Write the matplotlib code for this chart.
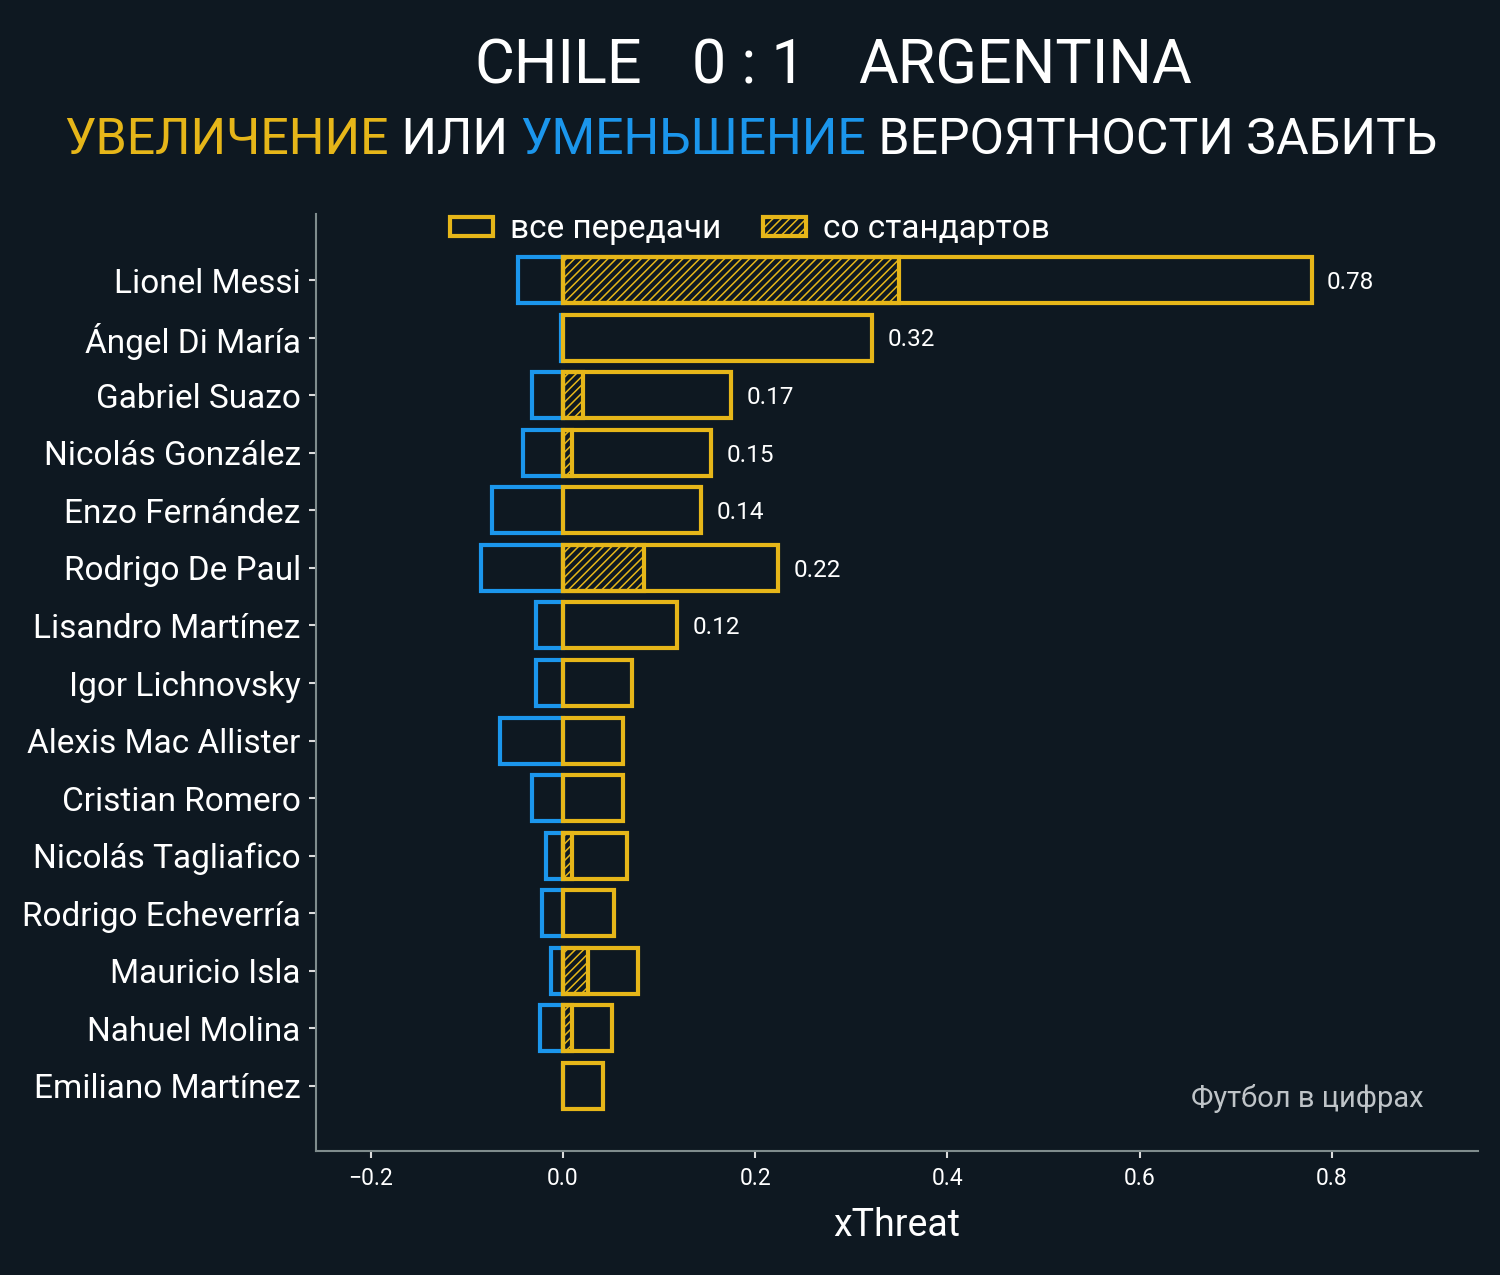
import matplotlib.pyplot as plt
from matplotlib.patches import Patch

plt.rcParams['font.family'] = ['Roboto', 'DejaVu Sans']
plt.rcParams['hatch.linewidth'] = 1.1

players = ['Lionel Messi', 'Ángel Di María', 'Gabriel Suazo', 'Nicolás González',
           'Enzo Fernández', 'Rodrigo De Paul', 'Lisandro Martínez', 'Igor Lichnovsky',
           'Alexis Mac Allister', 'Cristian Romero', 'Nicolás Tagliafico',
           'Rodrigo Echeverría', 'Mauricio Isla', 'Nahuel Molina', 'Emiliano Martínez']
xt_plus = [0.779, 0.3215, 0.175, 0.154, 0.144, 0.224, 0.119, 0.072, 0.062, 0.062,
           0.067, 0.053, 0.078, 0.051, 0.042]
xt_setpiece = [0.35, 0.0, 0.021, 0.009, 0.0, 0.084, 0.0, 0.0, 0.0, 0.0,
               0.009, 0.0, 0.026, 0.009, 0.0]
xt_minus = [-0.047, -0.002, -0.032, -0.042, -0.074, -0.085, -0.028, -0.028, -0.066, -0.032,
            -0.018, -0.022, -0.013, -0.024, 0.0]

bg = '#0e1821'
yel = '#e6b619'
blu = '#1b96ec'
spinec = '#7f8c8d'

fig = plt.figure(figsize=(15, 12.75), dpi=100, facecolor=bg)
ax = fig.add_axes([0.2107, 0.0973, 0.7746, 0.7349], facecolor=bg)

n = len(players)
ypos = [n - 1 - i for i in range(n)]

ax.barh(ypos, xt_minus, height=0.8, facecolor='none', edgecolor=blu, linewidth=3)
ax.barh(ypos, xt_plus, height=0.8, facecolor='none', edgecolor=yel, linewidth=3)
for y, v in zip(ypos, xt_setpiece):
    if v > 0:
        ax.barh(y, v, height=0.8, facecolor='none', edgecolor=yel, linewidth=3, hatch='////')

for y, v in zip(ypos, xt_plus):
    if v >= 0.1:
        ax.text(v + 0.016, y - 0.04, f'{v:.2f}', color='white', fontsize=17.5, va='center', ha='left')

ax.set_xlim(-0.257, 0.952)
ax.set_ylim(-1.13, 15.15)
ax.set_yticks(ypos)
ax.set_yticklabels(players)
ax.set_xticks([-0.2, 0.0, 0.2, 0.4, 0.6, 0.8])
ax.set_xticklabels(['\u22120.2', '0.0', '0.2', '0.4', '0.6', '0.8'])
ax.tick_params(axis='y', colors='#dddddd', labelcolor='white', labelsize=24, length=5, width=1.5, pad=6)
ax.tick_params(axis='x', colors='#dddddd', labelcolor='white', labelsize=16.5, length=5, width=1.5, pad=6.5)
for s in ['top', 'right']:
    ax.spines[s].set_visible(False)
for s in ['left', 'bottom']:
    ax.spines[s].set_color(spinec)
    ax.spines[s].set_linewidth(1.5)

ax.set_xlabel('xThreat', color='white', fontsize=27, labelpad=12)

ax.text(0.9535, 0.0555, 'Футбол в цифрах', transform=ax.transAxes, ha='right', va='center',
        fontsize=21, color='#bfc4c8')

handles = [Patch(facecolor='none', edgecolor=yel, linewidth=3),
           Patch(facecolor='none', edgecolor=yel, linewidth=3, hatch='////')]
fig.legend(handles, ['все передачи', 'со стандартов'], loc='center', bbox_to_anchor=(0.5, 0.8205),
           ncol=2, frameon=False, fontsize=24, labelcolor='white', handlelength=1.3,
           handleheight=0.5, handletextpad=0.5, columnspacing=1.25)

# title: two teams around the score
fig.text(0.4993, 1 - 84 / 1275, '0 : 1', ha='center', va='baseline', fontsize=44, color='white')
fig.text(642 / 1500, 1 - 84 / 1275, 'CHILE', ha='right', va='baseline', fontsize=44, color='white')
fig.text(858 / 1500, 1 - 84 / 1275, 'ARGENTINA', ha='left', va='baseline', fontsize=44, color='white')

# subtitle with coloured words
parts = [('УВЕЛИЧЕНИЕ', yel), (' ИЛИ ', 'white'), ('УМЕНЬШЕНИЕ', blu), (' ВЕРОЯТНОСТИ ЗАБИТЬ', 'white')]
r = fig.canvas.get_renderer()
sub_y = 1 - 154 / 1275
tmp = [fig.text(0, sub_y, t, fontsize=36, color=c, va='baseline') for t, c in parts]
widths = [t.get_window_extent(r).width for t in tmp]
x0 = 751 - sum(widths) / 2
for t, w in zip(tmp, widths):
    t.set_x(x0 / 1500)
    x0 += w

fig.savefig('out.png', facecolor=bg)
